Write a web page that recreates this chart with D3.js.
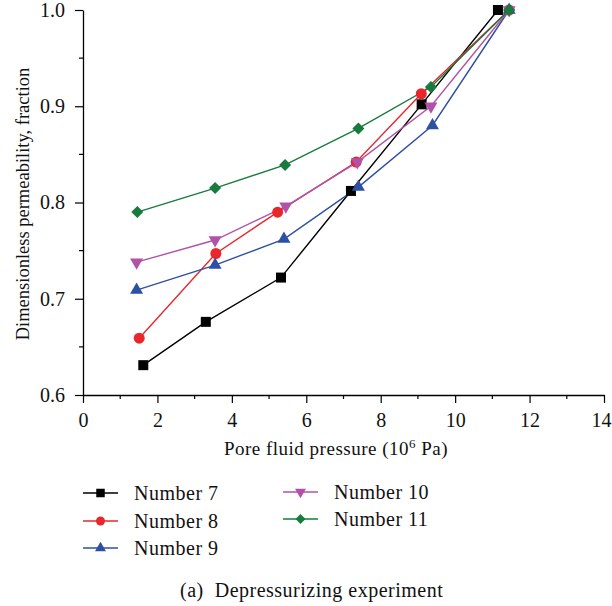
<!DOCTYPE html>
<html>
<head>
<meta charset="utf-8">
<script src="https://cdn.jsdelivr.net/npm/d3@7"></script>
<style>
  html, body { margin: 0; padding: 0; background: #fff; }
  svg { display: block; font-family: "Liberation Serif", "DejaVu Serif", serif; }
</style>
</head>
<body>
<svg id="chart" width="612" height="606"></svg>
<script>
// Pore fluid pressure (10^6 Pa) for each sample
const pressure7  = [1.62, 3.30, 5.32, 7.20, 9.10, 11.15];
const pressure8  = [1.51, 3.57, 5.23, 7.34, 9.09, 11.45];
const pressure9  = [1.44, 3.55, 5.40, 7.40, 9.39, 11.45];
const pressure10 = [1.44, 3.55, 5.45, 7.37, 9.35, 11.45];
const pressure11 = [1.46, 3.55, 5.43, 7.40, 9.35, 11.45];

// Dimensionless permeability (fraction) for each sample
const perm7  = [0.631, 0.676, 0.722, 0.812, 0.902, 1.0];
const perm8  = [0.659, 0.747, 0.790, 0.842, 0.913, 1.0];
const perm9  = [0.709, 0.735, 0.762, 0.816, 0.880, 1.0];
const perm10 = [0.738, 0.761, 0.796, 0.842, 0.900, 1.0];
const perm11 = [0.790, 0.815, 0.839, 0.877, 0.920, 1.0];

const seriesNames = ["Number 7", "Number 8", "Number 9", "Number 10", "Number 11"];
const xTicks = [0, 2, 4, 6, 8, 10, 12, 14];
const yTicks = [0.6, 0.7, 0.8, 0.9, 1.0];

const seriesStyle = [
  { color: "#000000", shape: "square" },
  { color: "#e8262b", shape: "circle" },
  { color: "#2e50a2", shape: "triangleUp" },
  { color: "#b152a8", shape: "triangleDown" },
  { color: "#177b3d", shape: "diamond" }
];

const pressures = [pressure7, pressure8, pressure9, pressure10, pressure11];
const perms = [perm7, perm8, perm9, perm10, perm11];
const series = seriesNames.map((name, i) => ({
  name,
  ...seriesStyle[i],
  points: pressures[i].map((p, j) => ({ x: p, y: perms[i][j] }))
}));

const svg = d3.select("#chart");
const plotLeft = 83, plotRight = 604, plotTop = 10, plotBottom = 395;

const x = d3.scaleLinear().domain([0, 14]).range([plotLeft, plotRight]);
const y = d3.scaleLinear().domain([0.6, 1.0]).range([plotBottom, plotTop]);

function markerPath(shape, s) {
  switch (shape) {
    case "square": return d3.symbol(d3.symbolSquare, s * s)();
    case "circle": return d3.symbol(d3.symbolCircle, Math.PI * (s / 2) * (s / 2))();
    case "triangleUp":
    case "triangleDown": return d3.symbol(d3.symbolTriangle, s * s * Math.sqrt(3) / 4)();
    case "diamond": return d3.symbol(d3.symbolSquare, (s / Math.SQRT2) * (s / Math.SQRT2))();
  }
}
function markerRotate(shape) {
  if (shape === "triangleDown") return 180;
  if (shape === "diamond") return 45;
  return 0;
}
const markerSize = { square: 10, circle: 11, triangleUp: 13, triangleDown: 13, diamond: 12 };
const legendMarkerSize = { square: 8.5, circle: 9, triangleUp: 11, triangleDown: 11, diamond: 10 };

// Axes
const xMinor = d3.range(1, 14, 2);
const yMinor = [0.65, 0.75, 0.85, 0.95];

const xAxisG = svg.append("g").attr("transform", `translate(0,${plotBottom})`);
xAxisG.call(d3.axisBottom(x).tickValues(xTicks).tickFormat(d3.format("d")).tickSize(8).tickSizeOuter(0));
xAxisG.append("g").selectAll("line").data(xMinor).join("line")
  .attr("x1", d => x(d)).attr("x2", d => x(d)).attr("y1", 0).attr("y2", 4)
  .attr("stroke", "#000").attr("stroke-width", 1.2);

const yAxisG = svg.append("g").attr("transform", `translate(${plotLeft},0)`);
yAxisG.call(d3.axisLeft(y).tickValues(yTicks).tickFormat(d3.format(".1f")).tickSize(8).tickSizeOuter(0));
yAxisG.append("g").selectAll("line").data(yMinor).join("line")
  .attr("y1", d => y(d)).attr("y2", d => y(d)).attr("x1", 0).attr("x2", -4)
  .attr("stroke", "#000").attr("stroke-width", 1.2);

[xAxisG, yAxisG].forEach(g => {
  g.select(".domain").attr("stroke", "#000").attr("stroke-width", 1.3);
  g.selectAll(".tick line").attr("stroke", "#000").attr("stroke-width", 1.2);
  g.selectAll(".tick text").attr("fill", "#111").style("font-size", "20px")
    .style("font-family", "'Liberation Serif', serif");
});
xAxisG.selectAll(".tick text").attr("dy", 0).attr("y", 32)
  .attr("dx", d => d === 14 ? -3 : 0);
yAxisG.selectAll(".tick text").attr("x", -18);

// Axis titles
const xTitle = svg.append("text")
  .attr("x", 336).attr("y", 455)
  .attr("text-anchor", "middle").style("font-size", "19px")
  .style("letter-spacing", "0.5px").attr("fill", "#111");
xTitle.append("tspan").text("Pore fluid pressure (10");
xTitle.append("tspan").attr("dy", -7).style("font-size", "13px").text("6");
xTitle.append("tspan").attr("dy", 7).text(" Pa)");

svg.append("text")
  .attr("transform", "translate(29,204) rotate(-90)")
  .attr("text-anchor", "middle").style("font-size", "18.5px").attr("fill", "#111")
  .text("Dimensionless permeability, fraction");

// Series lines and markers
const line = d3.line().x(d => x(d.x)).y(d => y(d.y));
const plot = svg.append("g");
series.forEach(s => {
  plot.append("path").datum(s.points)
    .attr("d", line).attr("fill", "none")
    .attr("stroke", s.color).attr("stroke-width", 1.4);
});
series.forEach(s => {
  plot.append("g").selectAll("path").data(s.points).join("path")
    .attr("d", markerPath(s.shape, markerSize[s.shape]))
    .attr("transform", d => `translate(${x(d.x)},${y(d.y)}) rotate(${markerRotate(s.shape)})`)
    .attr("fill", s.color);
});

// Legend
const legendPos = [
  { x: 83, y: 493 }, { x: 83, y: 521 }, { x: 83, y: 548 },
  { x: 283, y: 492 }, { x: 283, y: 519 }
];
series.forEach((s, i) => {
  const p = legendPos[i];
  const g = svg.append("g").attr("transform", `translate(${p.x},${p.y})`);
  g.append("line").attr("x1", 0).attr("x2", 35).attr("y1", 0).attr("y2", 0)
    .attr("stroke", s.color).attr("stroke-width", 1.4);
  g.append("path").attr("d", markerPath(s.shape, legendMarkerSize[s.shape]))
    .attr("transform", `translate(17.5,0) rotate(${markerRotate(s.shape)})`)
    .attr("fill", s.color);
  g.append("text").attr("x", 51).attr("y", 7)
    .style("font-size", "20px").style("letter-spacing", "0.5px")
    .attr("fill", "#111").text(s.name);
});

// Caption
svg.append("text").attr("x", 180).attr("y", 597)
  .style("font-size", "20px").style("letter-spacing", "0.5px").attr("fill", "#111")
  .attr("xml:space", "preserve")
  .text("(a)  Depressurizing experiment");
</script>
</body>
</html>
